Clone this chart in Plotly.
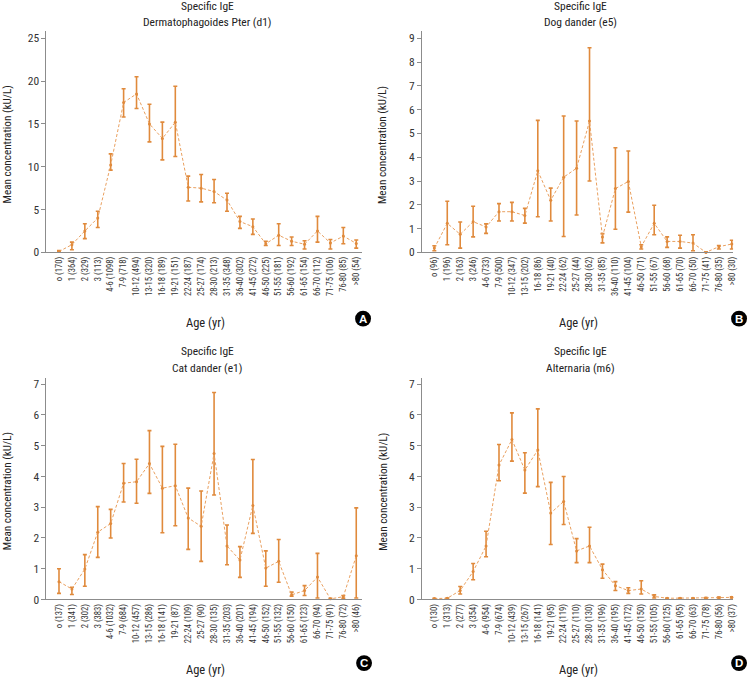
import plotly.graph_objects as go

W, H = 753, 682
FONT = "Roboto Condensed, Roboto, Arial, sans-serif"
ORANGE = "#E08A3C"
AXIS = "#8C8C8C"

ages = ["o", "1", "2", "3", "4-6", "7-9", "10-12", "13-15", "16-18", "19-21", "22-24",
        "25-27", "28-30", "31-35", "36-40", "41-45", "46-50", "51-55", "56-60", "61-65",
        "66-70", "71-75", "76-80", ">80"]

# Panel A: Dermatophagoides Pter (d1)
d1_n = [170, 364, 329, 113, 1098, 718, 494, 320, 189, 151, 187, 174, 213, 348, 302, 272,
        225, 181, 192, 154, 112, 106, 85, 54]
d1_mean = [0.1, 0.9, 2.5, 4.0, 10.2, 17.5, 18.5, 15.0, 13.3, 15.2, 7.6, 7.5, 7.1, 6.1, 3.6,
           3.0, 1.0, 2.0, 1.3, 0.95, 2.5, 1.1, 1.9, 1.05]
d1_hi = [0.2, 1.2, 3.35, 4.8, 11.5, 19.1, 20.5, 17.3, 15.2, 19.4, 8.9, 9.1, 8.5, 6.9, 4.2,
         3.9, 1.3, 3.35, 1.8, 1.35, 4.2, 1.5, 2.9, 1.45]
d1_lo = [0.0, 0.3, 1.6, 2.9, 9.6, 15.8, 16.8, 12.9, 10.8, 11.2, 6.0, 5.9, 5.8, 4.8, 2.8,
         2.1, 0.8, 0.8, 0.8, 0.4, 1.2, 0.4, 1.0, 0.5]

# Panel B: Dog dander (e5)
e5_n = [96, 196, 163, 246, 733, 500, 347, 202, 86, 40, 62, 44, 62, 85, 110, 104, 71, 67,
        68, 70, 50, 41, 35, 30]
e5_mean = [0.18, 1.22, 0.76, 1.29, 1.07, 1.71, 1.71, 1.55, 3.43, 2.19, 3.16, 3.54, 5.52,
           0.65, 2.68, 2.98, 0.24, 1.22, 0.46, 0.46, 0.39, 0.0, 0.24, 0.35]
e5_hi = [0.28, 2.15, 1.28, 1.94, 1.2, 2.05, 2.1, 1.85, 5.55, 2.7, 5.73, 5.52, 8.6, 0.79,
         4.4, 4.26, 0.32, 1.98, 0.65, 0.72, 0.74, 0.02, 0.29, 0.51]
e5_lo = [0.07, 0.32, 0.18, 0.65, 0.8, 1.32, 1.32, 1.23, 1.5, 1.32, 0.67, 1.57, 3.0, 0.40,
         0.97, 1.69, 0.14, 0.74, 0.21, 0.18, 0.07, 0.0, 0.14, 0.14]

# Panel C: Cat dander (e1)
e1_n = [137, 341, 302, 383, 1032, 684, 457, 286, 141, 87, 109, 90, 135, 203, 201, 194, 152,
        132, 150, 123, 94, 91, 72, 46]
e1_mean = [0.58, 0.34, 0.99, 2.19, 2.47, 3.78, 3.83, 4.42, 3.62, 3.7, 2.65, 2.38, 4.75,
           1.74, 1.28, 3.06, 1.02, 1.24, 0.15, 0.29, 0.73, 0.02, 0.09, 1.42]
e1_hi = [1.0, 0.4, 1.46, 3.02, 2.93, 4.42, 4.56, 5.49, 4.98, 5.05, 3.62, 3.53, 6.73, 2.42,
         1.72, 4.55, 1.58, 1.95, 0.24, 0.45, 1.5, 0.04, 0.13, 2.98]
e1_lo = [0.2, 0.16, 0.43, 1.37, 2.0, 3.17, 3.13, 3.45, 2.17, 2.4, 1.63, 1.24, 3.4, 1.13,
         0.72, 2.15, 0.43, 0.56, 0.11, 0.13, 0.05, 0.0, 0.04, 0.05]

# Panel D: Alternaria (m6)
m6_n = [130, 313, 277, 354, 954, 674, 439, 267, 141, 95, 119, 110, 130, 196, 195, 172, 150,
        105, 125, 95, 63, 78, 56, 37]
m6_mean = [0.03, 0.04, 0.29, 0.91, 1.74, 4.37, 5.2, 4.21, 4.86, 2.81, 3.19, 1.58, 1.74,
           0.97, 0.45, 0.29, 0.34, 0.1, 0.04, 0.04, 0.04, 0.05, 0.06, 0.07]
m6_hi = [0.04, 0.05, 0.42, 1.17, 2.22, 5.04, 6.07, 4.77, 6.2, 3.81, 4.0, 1.98, 2.35, 1.15,
         0.58, 0.38, 0.61, 0.15, 0.05, 0.05, 0.05, 0.06, 0.08, 0.09]
m6_lo = [0.02, 0.03, 0.18, 0.64, 1.39, 3.86, 4.5, 3.46, 3.67, 1.79, 2.44, 1.2, 1.2, 0.69,
         0.29, 0.2, 0.18, 0.05, 0.03, 0.03, 0.03, 0.04, 0.05, 0.05]

titles = ["Dermatophagoides Pter (d1)", "Dog dander (e5)", "Cat dander (e1)", "Alternaria (m6)"]
letters = ["A", "B", "C", "D"]
panels = [(d1_n, d1_mean, d1_hi, d1_lo), (e5_n, e5_mean, e5_hi, e5_lo),
          (e1_n, e1_mean, e1_hi, e1_lo), (m6_n, m6_mean, m6_hi, m6_lo)]
y_ranges = [[0, 25.8], [0, 9.29], [0, 7.21], [0, 7.21]]
y_dticks = [5, 1, 1, 1]

# pixel geometry of the plot areas: (left, right, top, bottom)
boxes = [(46.7, 364.0, 31.7, 255.0), (424.3, 737.0, 31.7, 255.0),
         (46.7, 364.0, 381.7, 605.7), (424.3, 737.0, 381.7, 605.7)]
x_ranges = [[-0.97, 23.45], [-0.95, 23.1], [-0.97, 23.45], [-0.95, 23.1]]
badges = [(365, 322), (743, 322), (366, 670), (743, 670)]


def px(x):
    return x / W


def py(y):
    return 1 - y / H


def note(text, x, y, size, angle=0, color="#222", family=FONT):
    return dict(text=text, xref="paper", yref="paper", x=px(x), y=py(y),
                xanchor="center", yanchor="middle", showarrow=False, textangle=angle,
                font=dict(size=size, family=family, color=color))


fig = go.Figure()
layout = dict(width=W, height=H, margin=dict(l=0, r=0, t=0, b=0),
              paper_bgcolor="white", plot_bgcolor="white", showlegend=False,
              font=dict(family=FONT, color="#222"), annotations=[], shapes=[])

xs = list(range(len(ages)))
for i, (n, mean, hi, lo) in enumerate(panels):
    k = "" if i == 0 else str(i + 1)
    up = [h - m for h, m in zip(hi, mean)]
    dn = [m - l for m, l in zip(mean, lo)]
    fig.add_trace(go.Scatter(
        x=xs, y=mean, mode="lines+markers", xaxis="x" + k, yaxis="y" + k,
        line=dict(color="#E9A060", width=1, dash="3px,2px"),
        marker=dict(color=ORANGE, size=3),
        error_y=dict(type="data", symmetric=False, array=up, arrayminus=dn,
                     color=ORANGE, thickness=1.6, width=2),
        hoverinfo="skip", cliponaxis=False))
    L, R, T, B = boxes[i]
    ticktext = [f"{a} ({c})" for a, c in zip(ages, n)]
    layout["xaxis" + k] = dict(
        domain=[px(L), px(R)], anchor="y" + k, range=x_ranges[i],
        tickmode="array", tickvals=xs, ticktext=ticktext, tickangle=-90,
        tickfont=dict(size=8.6, family=FONT, color="#333"), ticks="",
        showline=True, linecolor=AXIS, linewidth=1, showgrid=False, zeroline=False)
    layout["yaxis" + k] = dict(
        domain=[py(B), py(T)], anchor="x" + k, range=y_ranges[i], dtick=y_dticks[i],
        tick0=0, ticks="outside", ticklen=4, tickcolor=AXIS,
        tickfont=dict(size=11.5, family=FONT, color="#333"),
        showline=True, linecolor=AXIS, linewidth=1, showgrid=False, zeroline=False)
    cx = (L + R) / 2 + 3
    layout["annotations"].append(note("Specific IgE", cx, 6.5 if i < 2 else 355, 11.5))
    layout["annotations"].append(note(titles[i], cx, 22 if i < 2 else 371.7, 11.5))
    # axis titles
    layout["annotations"].append(note("Age (yr)", cx - 2, B + 71, 12.5))
    layout["annotations"].append(note("Mean concentration (kU/L)", L - 39, (T + B) / 2 + 3,
                                      11.2, angle=-90))
    # lettered circle badge
    bx, by = badges[i]
    r = 8
    layout["shapes"].append(dict(type="circle", xref="paper", yref="paper",
                                 x0=px(bx - r), x1=px(bx + r), y0=py(by + r), y1=py(by - r),
                                 fillcolor="black", line=dict(color="black", width=0)))
    layout["annotations"].append(note("<b>" + letters[i] + "</b>", bx, by, 11.5, color="white",
                                      family="Liberation Sans, Arial, sans-serif"))

fig.update_layout(**layout)
fig.write_html("out.html", config={"displayModeBar": False},
               post_script="document.body.style.margin='0';document.body.style.overflow='hidden';")
